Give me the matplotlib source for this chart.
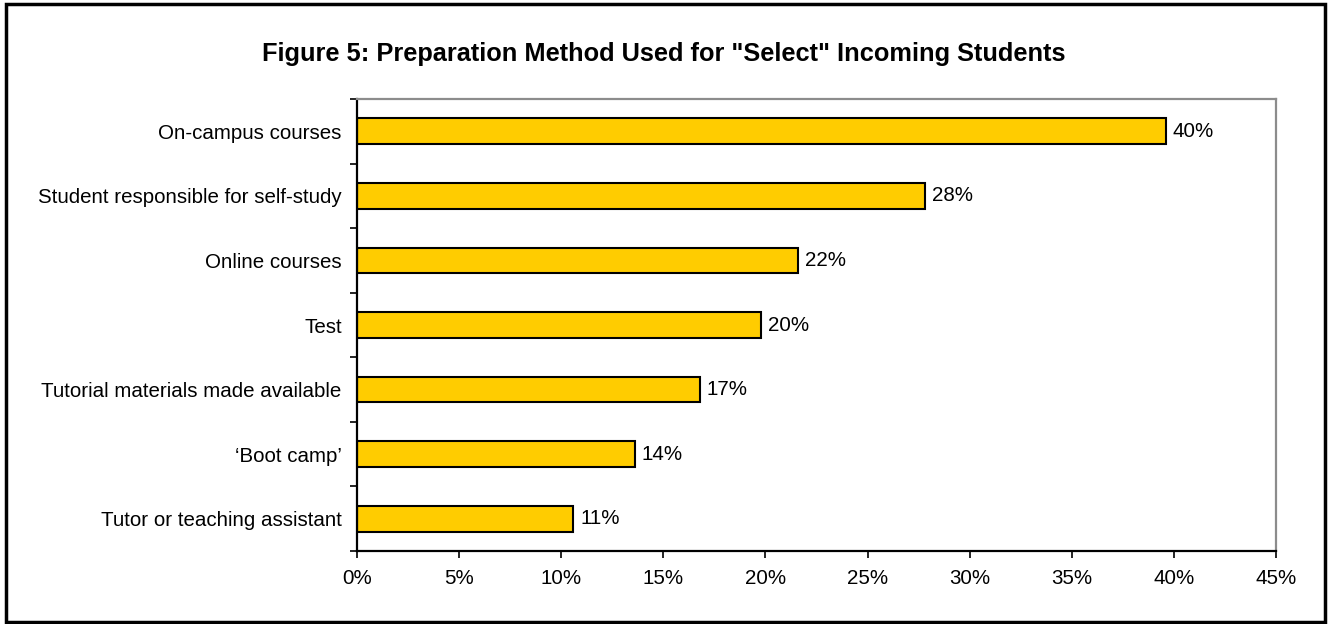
import matplotlib
matplotlib.use('Agg')
import matplotlib.pyplot as plt
from matplotlib.patches import Rectangle
from matplotlib.ticker import FixedLocator, NullFormatter

plt.rcParams['font.family'] = ['Liberation Sans', 'DejaVu Sans']

# data (top to bottom)
methods = ['On-campus courses', 'Student responsible for self-study',
           'Online courses', 'Test', 'Tutorial materials made available',
           '\u2018Boot camp\u2019', 'Tutor or teaching assistant']
shares = [39.6, 27.8, 21.6, 19.8, 16.8, 13.6, 10.6]
labels = ['40%', '28%', '22%', '20%', '17%', '14%', '11%']
xticks = [0, 5, 10, 15, 20, 25, 30, 35, 40, 45]

fs = 14.8

fig = plt.figure(figsize=(13.28, 6.24), dpi=100)
ax = fig.add_axes([0.2688, 0.117, 0.692, 0.7243])

n = len(methods)
ypos = list(range(n))[::-1]
ax.barh(ypos, shares, height=0.4, color='#FFCC00', edgecolor='black',
        linewidth=1.5)
for y, v, lab in zip(ypos, shares, labels):
    ax.annotate(lab, (v, y), xytext=(5, 0), textcoords='offset points',
                va='center', ha='left', fontsize=fs)

ax.set_xlim(0, 45)
ax.set_ylim(-0.5, n - 0.5)
ax.set_xticks(xticks)
ax.set_xticklabels([f'{t}%' for t in xticks], fontsize=fs)
ax.set_yticks(ypos)
ax.set_yticklabels(methods, fontsize=fs)
ax.tick_params(axis='y', which='major', length=0, pad=11)
ax.yaxis.set_minor_locator(FixedLocator([i - 0.5 for i in range(n + 1)]))
ax.yaxis.set_minor_formatter(NullFormatter())
ax.tick_params(axis='y', which='minor', length=5, width=1.2, direction='out')
ax.tick_params(axis='x', length=5, width=1.2, direction='out', pad=8)

for side in ['left', 'bottom']:
    ax.spines[side].set_linewidth(1.6)
    ax.spines[side].set_color('black')
for side in ['top', 'right']:
    ax.spines[side].set_linewidth(1.6)
    ax.spines[side].set_color('#8c8c8c')

fig.text(0.4995, 0.914, 'Figure 5: Preparation Method Used for "Select" Incoming Students',
         ha='center', va='center', fontsize=18.3, fontweight='bold')

# outer chart border
fig.patches.append(Rectangle((0.0045, 0.004), 0.9935, 0.9895, transform=fig.transFigure,
                             fill=False, edgecolor='black', linewidth=2.5))

fig.savefig('out.png', dpi=100)
